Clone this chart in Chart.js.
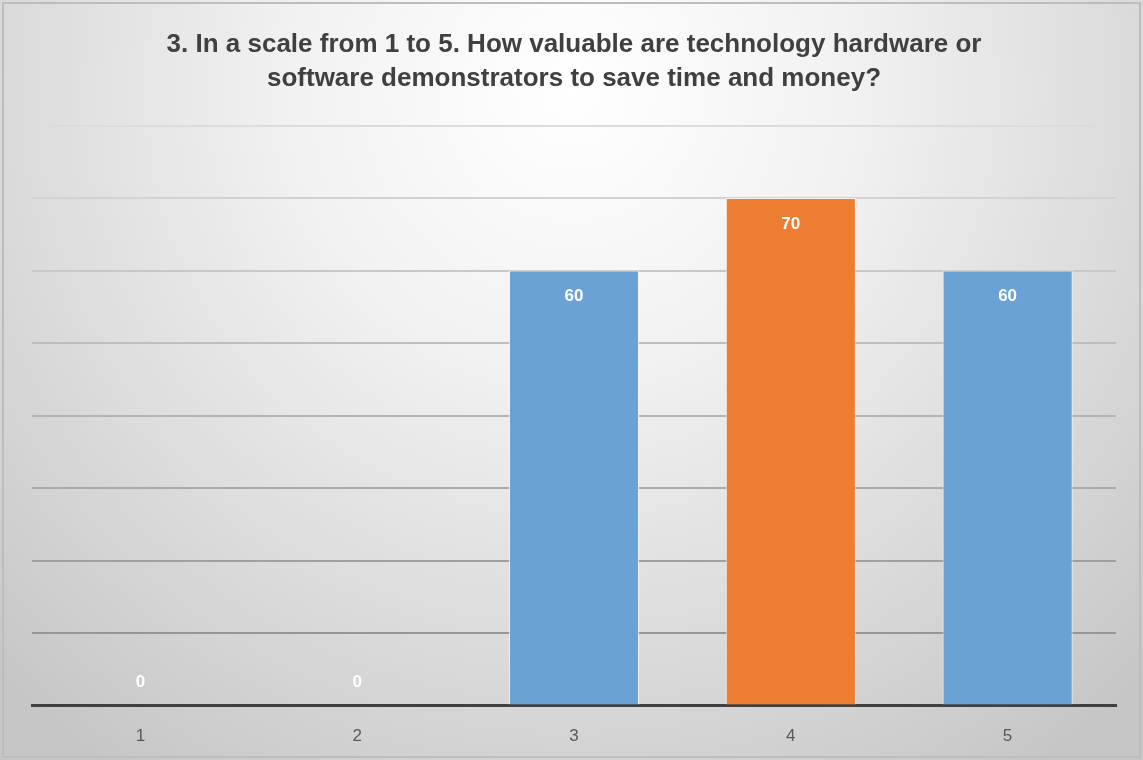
<!DOCTYPE html>
<html>
<head>
<meta charset="utf-8">
<script src="https://cdn.jsdelivr.net/npm/chart.js@4"></script>
<style>
    html, body { margin: 0; padding: 0; background: #ffffff; }
    #wrap { width: 1143px; height: 760px; }
</style>
</head>
<body>
<div id="wrap"><canvas id="ratingChart" width="1143" height="760"></canvas></div>
<script>
const titleLines = [
    "3. In a scale from 1 to 5. How valuable are technology hardware or",
    "software demonstrators to save time and money?"
];
const scaleLabels = ["1", "2", "3", "4", "5"];
const responses   = [0, 0, 60, 70, 60];
const barColors   = ["#6aa2d6", "#6aa2d6", "#6aa2d6", "#ed7d31", "#6aa2d6"];
const yMax  = 80;
const yStep = 10;

const FONT = "'Liberation Sans', Arial, sans-serif";

// soft radial background with a thin frame
const backdrop = {
    id: "backdrop",
    beforeDraw(chart) {
        const { ctx, width, height } = chart;
        ctx.save();
        const g = ctx.createRadialGradient(width / 2, 90, 0, width / 2, 90, 820);
        g.addColorStop(0, "#ffffff");
        g.addColorStop(0.35, "#f1f1f1");
        g.addColorStop(1, "#c6c6c6");
        ctx.fillStyle = g;
        ctx.fillRect(0, 0, width, height);
        ctx.strokeStyle = "#bdbdbd";
        ctx.lineWidth = 2;
        ctx.strokeRect(3, 3, width - 6, height - 6);
        ctx.restore();
    }
};

// value labels: inside the top of a bar, just above the axis for empty ones
const valueLabels = {
    id: "valueLabels",
    afterDatasetsDraw(chart) {
        const { ctx } = chart;
        const meta = chart.getDatasetMeta(0);
        ctx.save();
        ctx.font = "bold 17px " + FONT;
        ctx.fillStyle = "#ffffff";
        ctx.textAlign = "center";
        ctx.textBaseline = "middle";
        meta.data.forEach((bar, i) => {
            const y = responses[i] === 0 ? bar.y - 23 : bar.y + 26;
            ctx.fillText(String(responses[i]), bar.x, y);
        });
        ctx.restore();
    }
};

new Chart(document.getElementById("ratingChart"), {
    type: "bar",
    data: {
        labels: scaleLabels,
        datasets: [{
            data: responses,
            backgroundColor: barColors,
            borderColor: "rgba(255,255,255,0.75)",
            borderWidth: { left: 1, right: 1, top: 1, bottom: 0 },
            borderSkipped: "bottom",
            categoryPercentage: 1,
            barPercentage: 0.6,
        }]
    },
    options: {
        responsive: false,
        animation: false,
        devicePixelRatio: 1,
        layout: { padding: { left: 32, right: 27, top: 0, bottom: 0 } },
        plugins: {
            legend: { display: false },
            tooltip: { enabled: false },
            title: {
                display: true,
                text: titleLines,
                color: "#404040",
                font: { family: FONT, size: 26, weight: "bold", lineHeight: 1.3 },
                padding: { top: 28, bottom: 30 }
            }
        },
        scales: {
            x: {
                grid: { display: false },
                border: { display: true, color: "#404040", width: 3 },
                ticks: { color: "#595959", font: { family: FONT, size: 17 }, padding: 13 }
            },
            y: {
                min: 0,
                max: yMax,
                ticks: { display: false, stepSize: yStep },
                border: { display: false },
                grid: {
                    drawTicks: false,
                    lineWidth: 2,
                    color: c => {
                        if (c.tick.value === 0) return "rgba(0,0,0,0)";
                        const t = c.tick.value / yMax;
                        const v = Math.round(140 + t * 80);
                        return `rgb(${v},${v},${v})`;
                    }
                }
            }
        }
    },
    plugins: [backdrop, valueLabels]
});
</script>
</body>
</html>
